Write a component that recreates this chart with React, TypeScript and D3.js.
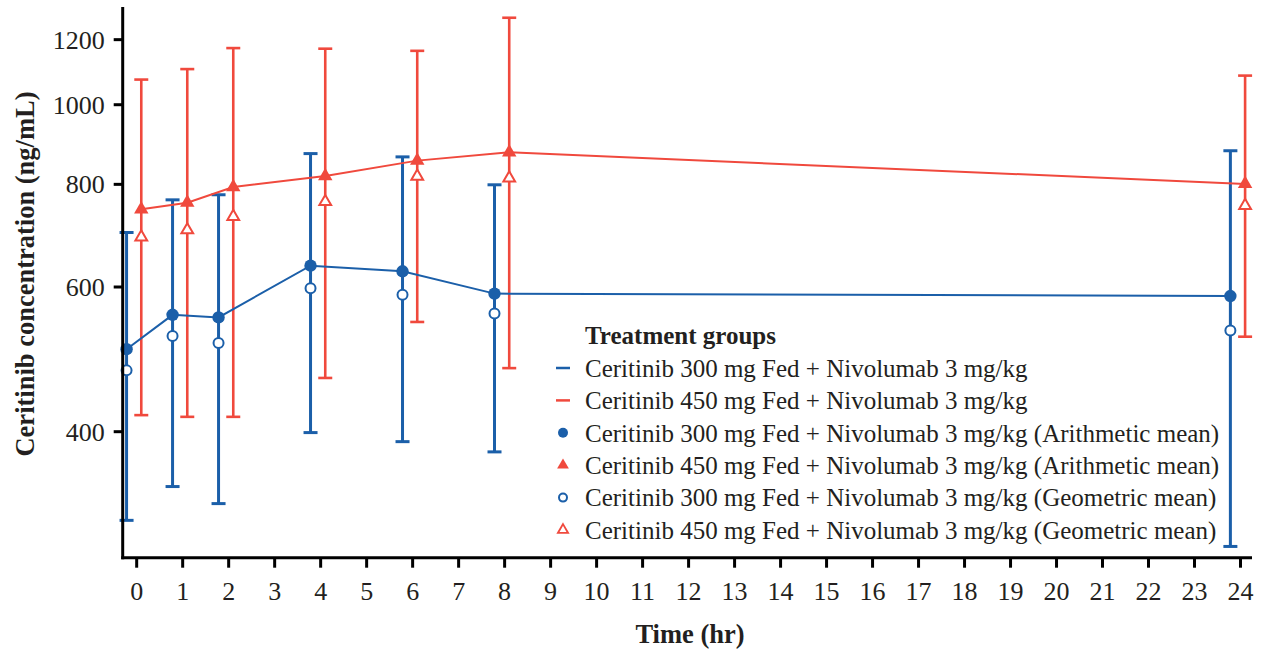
import React from "react";
import * as d3 from "d3";

const times = [0, 1, 2, 4, 6, 8, 24];
const blueArith = [504, 555, 551, 637, 627, 589, 585];
const blueGeo = [475, 523, 513, 598, 587, 557, 531];
const blueUpper = [699, 766, 777, 872, 864, 799, 879];
const blueLower = [312, 343, 327, 399, 389, 378, 290];
const redArith = [746, 760, 794, 819, 855, 875, 801];
const redGeo = [690, 704, 731, 762, 818, 814, 754];
const redUpper = [1073, 1105, 1172, 1170, 1163, 1276, 1085];
const redLower = [419, 417, 417, 465, 544, 478, 522];
const yTicks = [400, 600, 800, 1000, 1200];
const xTicks = d3.range(0, 25);
const legendLabels = [
  "Ceritinib 300 mg Fed + Nivolumab 3 mg/kg",
  "Ceritinib 450 mg Fed + Nivolumab 3 mg/kg",
  "Ceritinib 300 mg Fed + Nivolumab 3 mg/kg (Arithmetic mean)",
  "Ceritinib 450 mg Fed + Nivolumab 3 mg/kg (Arithmetic mean)",
  "Ceritinib 300 mg Fed + Nivolumab 3 mg/kg (Geometric mean)",
  "Ceritinib 450 mg Fed + Nivolumab 3 mg/kg (Geometric mean)",
];

const BLUE = "#1b5fa9";
const RED = "#f0493d";
const FONT = "'Liberation Serif', 'Times New Roman', serif";
const TEXT = "#231f20";

export default function App() {
  const x = d3.scaleLinear().domain([-0.304, 24.25]).range([122.7, 1252]);
  const y = d3.scaleLog().domain([281, 1315]).range([557.7, 7]);
  const x0 = 122.7, yb = 557.7;
  const blueOff = -0.22, redOff = 0.1;

  const line = (vals: number[], off: number) =>
    d3.line<number>().x((_, i) => x(times[i] + off)).y((v) => y(v))(vals) || "";

  const triF = d3.symbol().type(d3.symbolTriangle).size(90)() || "";
  const triO = d3.symbol().type(d3.symbolTriangle).size(60)() || "";

  const errBars = (up: number[], lo: number[], off: number, color: string, w: number) =>
    times.map((t, i) => {
      const cx = x(t + off);
      return (
        <g key={i} stroke={color} strokeWidth={w}>
          <line x1={cx} x2={cx} y1={y(up[i])} y2={y(lo[i])} />
          <line x1={cx - 7} x2={cx + 7} y1={y(up[i])} y2={y(up[i])} />
          <line x1={cx - 7} x2={cx + 7} y1={y(lo[i])} y2={y(lo[i])} />
        </g>
      );
    });

  const legX = 563;
  const legY0 = 368;
  const legStep = 32.4;

  return (
    <svg width={1264} height={650} style={{ position: "absolute", left: 0, top: 0, background: "#fff" }} fontFamily={FONT}>
      {errBars(blueUpper, blueLower, blueOff, BLUE, 3)}
      {errBars(redUpper, redLower, redOff, RED, 2.6)}
      <path d={line(blueArith, blueOff)} fill="none" stroke={BLUE} strokeWidth={2} />
      <path d={line(redArith, redOff)} fill="none" stroke={RED} strokeWidth={2} />
      {times.map((t, i) => (
        <g key={"m" + i}>
          <circle cx={x(t + blueOff)} cy={y(blueGeo[i])} r={5} fill="#fff" stroke={BLUE} strokeWidth={2} />
          <circle cx={x(t + blueOff)} cy={y(blueArith[i])} r={6.2} fill={BLUE} />
          <path d={triO} transform={`translate(${x(t + redOff)},${y(redGeo[i])})`} fill="#fff" stroke={RED} strokeWidth={2} />
          <path d={triF} transform={`translate(${x(t + redOff)},${y(redArith[i])})`} fill={RED} />
        </g>
      ))}
      <line x1={x0} x2={x0} y1={7} y2={yb + 1.5} stroke="#000" strokeWidth={3} />
      <line x1={x0 - 1.5} x2={1252} y1={yb} y2={yb} stroke="#000" strokeWidth={3} />
      {yTicks.map((v) => (
        <g key={v}>
          <line x1={x0 - 9} x2={x0} y1={y(v)} y2={y(v)} stroke="#000" strokeWidth={3} />
          <text x={x0 - 18} y={y(v)} dy="0.35em" textAnchor="end" fontSize={26} fill={TEXT}>{v}</text>
        </g>
      ))}
      {xTicks.map((t) => (
        <g key={t}>
          <line x1={x(t)} x2={x(t)} y1={yb} y2={yb + 10} stroke="#000" strokeWidth={3} />
          <text x={x(t)} y={591} dy="0.35em" textAnchor="middle" fontSize={26} fill={TEXT}>{t}</text>
        </g>
      ))}
      <text x={690} y={634} dy="0.35em" textAnchor="middle" fontSize={26.5} fontWeight="bold" fill={TEXT}>Time (hr)</text>
      <text transform="translate(25,274) rotate(-90)" dy="0.35em" textAnchor="middle" fontSize={26.5} fontWeight="bold" fill={TEXT}>Ceritinib concentration (ng/mL)</text>
      <text x={585} y={335} dy="0.35em" fontSize={25} fontWeight="bold" fill={TEXT}>Treatment groups</text>
      {legendLabels.map((lab, i) => {
        const ly = legY0 + i * legStep;
        let sym;
        if (i === 0) sym = <line x1={legX - 7} x2={legX + 7} y1={ly} y2={ly} stroke={BLUE} strokeWidth={2.5} />;
        else if (i === 1) sym = <line x1={legX - 7} x2={legX + 7} y1={ly} y2={ly} stroke={RED} strokeWidth={2.5} />;
        else if (i === 2) sym = <circle cx={legX} cy={ly} r={5} fill={BLUE} />;
        else if (i === 3) sym = <path d={d3.symbol().type(d3.symbolTriangle).size(60)() || ""} transform={`translate(${legX},${ly})`} fill={RED} />;
        else if (i === 4) sym = <circle cx={legX} cy={ly} r={4} fill="#fff" stroke={BLUE} strokeWidth={2} />;
        else sym = <path d={d3.symbol().type(d3.symbolTriangle).size(45)() || ""} transform={`translate(${legX},${ly})`} fill="#fff" stroke={RED} strokeWidth={1.8} />;
        return (
          <g key={i}>
            {sym}
            <text x={585} y={ly} dy="0.35em" fontSize={25} fill={TEXT}>{lab}</text>
          </g>
        );
      })}
    </svg>
  );
}
